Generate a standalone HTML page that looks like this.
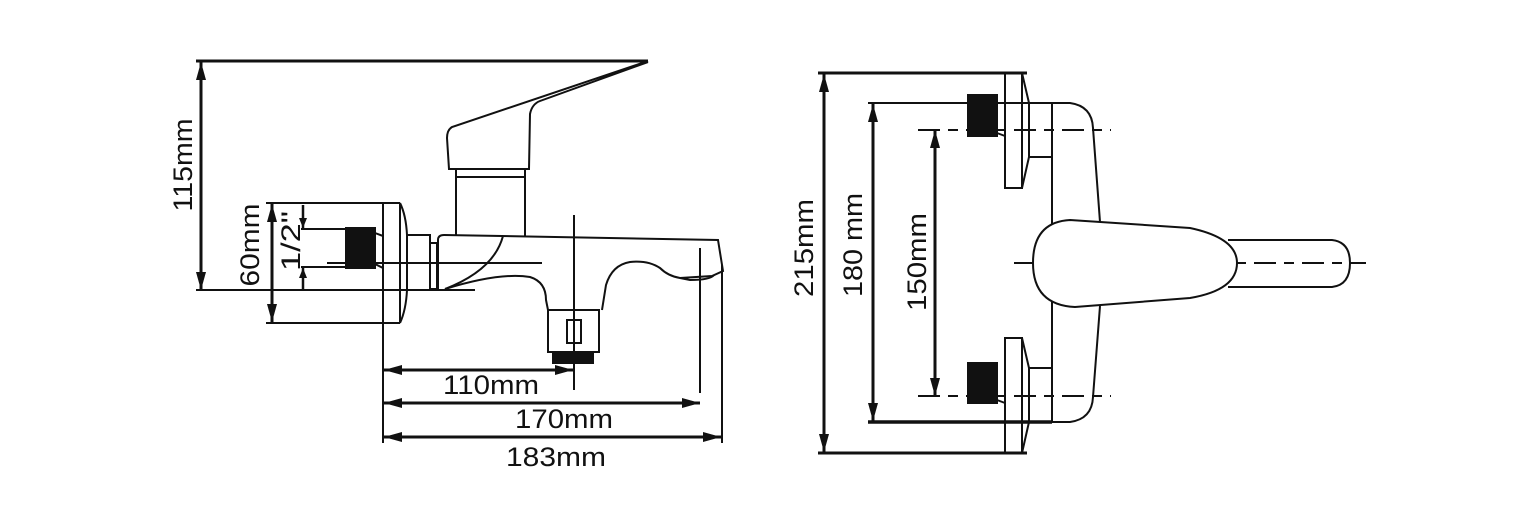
<!DOCTYPE html>
<html><head><meta charset="utf-8"><style>
html,body{margin:0;padding:0;background:#fff;}
svg{display:block;}
text{font-family:"Liberation Sans",Arial,sans-serif;font-size:27px;fill:#111;}
</style></head><body>
<svg width="1536" height="528" viewBox="0 0 1536 528" xmlns="http://www.w3.org/2000/svg">
<defs>
<marker id="a" viewBox="0 0 10 10" refX="10" refY="5" markerWidth="10" markerHeight="8" markerUnits="userSpaceOnUse" orient="auto-start-reverse" preserveAspectRatio="none"><path d="M0,0 L10,5 L0,10 Z" fill="#111"/></marker>
<marker id="b" viewBox="0 0 10 10" refX="10" refY="5" markerWidth="18" markerHeight="10" markerUnits="userSpaceOnUse" orient="auto-start-reverse" preserveAspectRatio="none"><path d="M0,0 L10,5 L0,10 Z" fill="#111"/></marker>
</defs>
<g fill="none" stroke="#111" stroke-width="2">
<!-- LEFT VIEW -->
<line x1="196" y1="61" x2="648" y2="61" stroke-width="3"/>
<line x1="201" y1="62" x2="201" y2="290" stroke-width="3" marker-start="url(#b)" marker-end="url(#b)"/>
<line x1="196" y1="290" x2="475" y2="290"/>
<!-- handle -->
<path d="M648,61 L452,127 Q447,130 447,138 L449,169 L529,169 L530,114 Q532,104 540,101 L648,62"/>
<rect x="456" y="169" width="69" height="8"/>
<line x1="456" y1="177" x2="456" y2="236"/>
<line x1="525" y1="177" x2="525" y2="237"/>
<!-- spout -->
<path d="M438,290 L438,240 Q438,235 444,235 L718,240 L723,271 L712,276 L680,278 Q668,276 660,268 Q648,260 630,262 Q612,265 606,285 L602,310"/>
<path d="M503,236 Q494,270 445,289"/>
<path d="M445,289 Q500,272 530,277 Q546,282 546,300 L548,310"/>
<path d="M680,278 L690,280 Q710,280 714,275"/>
<rect x="548" y="310" width="51" height="42"/>
<rect x="553" y="352" width="40" height="11" fill="#111"/>
<rect x="567" y="320" width="14" height="23"/>
<rect x="407" y="235" width="23" height="55"/>
<rect x="430" y="243" width="7" height="46"/>
<!-- flange -->
<line x1="266" y1="203" x2="400" y2="203"/>
<line x1="266" y1="323" x2="400" y2="323"/>
<line x1="383" y1="203" x2="383" y2="443"/>
<path d="M400,203 L400,323 M400,203 Q406,215 407,235 L407,290 Q406,310 400,323"/>
<line x1="272" y1="204" x2="272" y2="322" stroke-width="3" marker-start="url(#b)" marker-end="url(#b)"/>
<rect x="346" y="228" width="29" height="40" fill="#111"/>
<line x1="301" y1="229" x2="346" y2="229"/>
<line x1="301" y1="267" x2="346" y2="267"/>
<line x1="327" y1="263" x2="542" y2="263"/>
<line x1="375" y1="233" x2="383" y2="236"/>
<line x1="375" y1="264" x2="383" y2="268"/>
<line x1="303" y1="205" x2="303" y2="228" stroke-width="2.5" marker-end="url(#a)"/>
<line x1="303" y1="290" x2="303" y2="268" stroke-width="2.5" marker-end="url(#a)"/>
<!-- horizontal dims -->
<line x1="574" y1="215" x2="574" y2="390"/>
<line x1="700" y1="248" x2="700" y2="393"/>
<line x1="722" y1="265" x2="722" y2="443"/>
<line x1="384" y1="370" x2="573" y2="370" stroke-width="3" marker-start="url(#b)" marker-end="url(#b)"/>
<line x1="384" y1="403" x2="700" y2="403" stroke-width="3" marker-start="url(#b)" marker-end="url(#b)"/>
<line x1="384" y1="437" x2="721" y2="437" stroke-width="3" marker-start="url(#b)" marker-end="url(#b)"/>

<!-- RIGHT VIEW -->
<line x1="818" y1="73" x2="1027" y2="73" stroke-width="3"/>
<line x1="818" y1="453" x2="1027" y2="453" stroke-width="3"/>
<line x1="824" y1="74" x2="824" y2="452" stroke-width="3" marker-start="url(#b)" marker-end="url(#b)"/>
<line x1="868" y1="103" x2="1052" y2="103"/>
<line x1="868" y1="422" x2="1052" y2="422" stroke-width="3.5"/>
<line x1="873" y1="104" x2="873" y2="421" stroke-width="3" marker-start="url(#b)" marker-end="url(#b)"/>
<line x1="935" y1="130" x2="935" y2="396" stroke-width="3" marker-start="url(#b)" marker-end="url(#b)"/>
<line x1="918" y1="130" x2="1111" y2="130" stroke-dasharray="22 8 10 8"/>
<line x1="918" y1="396" x2="1111" y2="396" stroke-dasharray="22 8 10 8"/>
<line x1="1014" y1="263" x2="1366" y2="263" stroke-dasharray="22 8 10 8"/>
<!-- plates -->
<rect x="1005" y="73" width="17" height="115"/>
<path d="M1022,73 L1029,103 L1029,157 L1022,188"/>
<rect x="1029" y="103" width="23" height="54"/>
<rect x="968" y="95" width="29" height="41" fill="#111"/>
<rect x="1005" y="338" width="17" height="115"/>
<path d="M1022,338 L1029,368 L1029,422 L1022,453"/>
<rect x="1029" y="368" width="23" height="54"/>
<rect x="968" y="363" width="29" height="40" fill="#111"/>
<line x1="997" y1="133" x2="1005" y2="136"/>
<line x1="997" y1="400" x2="1005" y2="403"/>
<!-- body -->
<path d="M1052,103 L1070,103 Q1092,106 1093,128 L1100,222"/>
<path d="M1052,422 L1070,422 Q1092,419 1093,397 L1100,306"/>
<line x1="1052" y1="157" x2="1052" y2="228"/>
<line x1="1052" y1="300" x2="1052" y2="368"/>
<!-- lever -->
<path d="M1070,220 L1190,228 Q1237,238 1237,263 Q1237,290 1190,298 L1075,307 Q1033,305 1033,263 Q1033,222 1070,220 Z" fill="#fff"/>
<path d="M1228,240 L1332,240 Q1350,242 1350,263 Q1350,285 1332,287 L1228,287"/>
</g>
<!-- labels -->
<text x="491" y="394" text-anchor="middle" textLength="96" lengthAdjust="spacingAndGlyphs">110mm</text>
<text x="564" y="428" text-anchor="middle" textLength="98" lengthAdjust="spacingAndGlyphs">170mm</text>
<text x="556" y="466" text-anchor="middle" textLength="100" lengthAdjust="spacingAndGlyphs">183mm</text>
<text transform="translate(192,165) rotate(-90)" text-anchor="middle" textLength="93" lengthAdjust="spacingAndGlyphs">115mm</text>
<text transform="translate(259,245) rotate(-90)" text-anchor="middle" textLength="83" lengthAdjust="spacingAndGlyphs">60mm</text>
<text transform="translate(300,241) rotate(-90)" text-anchor="middle" textLength="60" lengthAdjust="spacingAndGlyphs">1/2"</text>
<text transform="translate(813,248) rotate(-90)" text-anchor="middle" textLength="98" lengthAdjust="spacingAndGlyphs">215mm</text>
<text transform="translate(862,245) rotate(-90)" text-anchor="middle" textLength="104" lengthAdjust="spacingAndGlyphs">180 mm</text>
<text transform="translate(926,262) rotate(-90)" text-anchor="middle" textLength="98" lengthAdjust="spacingAndGlyphs">150mm</text>
</svg>
</body></html>
